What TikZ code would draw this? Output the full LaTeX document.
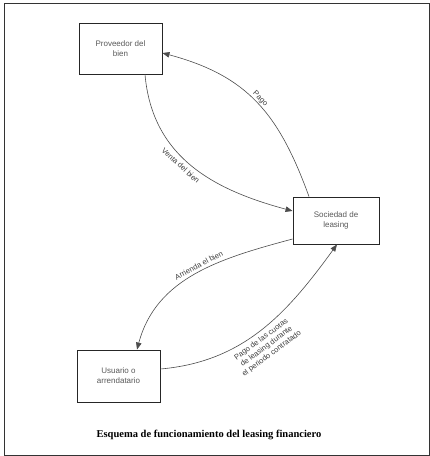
\documentclass[tikz,border=0pt]{standalone}
\usepackage{fontspec}
\setmainfont{Liberation Sans}
\newfontfamily\capfont{Liberation Serif}
\usetikzlibrary{arrows.meta}
\tikzset{
  entity/.style={draw=black!85, line width=0.9pt, fill=white, minimum width=83pt, minimum height=51pt,
    align=center, text=black!65, font=\fontsize{8}{10}\selectfont, inner sep=2pt},
  flow/.style={draw=black!70, line width=0.6pt, -{Triangle[length=7pt,width=5.5pt]}},
  flowlabel/.style={sloped, text=black!75, font=\fontsize{7.6}{8.8}\selectfont, inner sep=1pt, align=center},
}
\begin{document}
\begin{tikzpicture}[x=1pt,y=1pt]
\useasboundingbox (0,0) rectangle (430,456);
\draw[line width=0.8pt, black!80] (4,1) rectangle (429,453);

\node[entity] (prov) at (120.5,407.5) {Proveedor del\\bien};
\node[entity, minimum width=86pt, minimum height=47pt] (soc) at (336,235.5) {Sociedad de\\leasing};
\node[entity, minimum height=52pt] (usu) at (118.5,80) {Usuario o\\arrendatario};

\draw[flow] ([xshift=24.5pt]prov.south) to[out=-85,in=165,looseness=1.05]
  node[flowlabel, below=3pt, pos=0.46] (lventa) {Venta del bien} ([yshift=9.5pt]soc.west);
\draw[flow] ([xshift=-27pt]soc.north) to[out=110,in=-15,looseness=1.1]
  node[flowlabel, above=0.5pt, pos=0.5] (lpago) {Pago} ([yshift=-4.5pt]prov.east);
\draw[flow] ([yshift=-18.5pt]soc.west) to[out=195,in=75]
  node[flowlabel, above=2pt, pos=0.46] (larr) {Arrienda el bien} ([xshift=18.5pt]usu.north);
\draw[flow] ([yshift=7pt]usu.east) to[out=5,in=234]
  node[flowlabel, below=3pt, pos=0.47] (lcuo) {Pago de las cuotas\\de leasing durante\\el periodo contratado} ([xshift=1pt]soc.south);

\node[font=\capfont\bfseries\fontsize{10.5}{12}\selectfont] (cap) at (209,21) {Esquema de funcionamiento del leasing financiero};
\end{tikzpicture}
\end{document}
